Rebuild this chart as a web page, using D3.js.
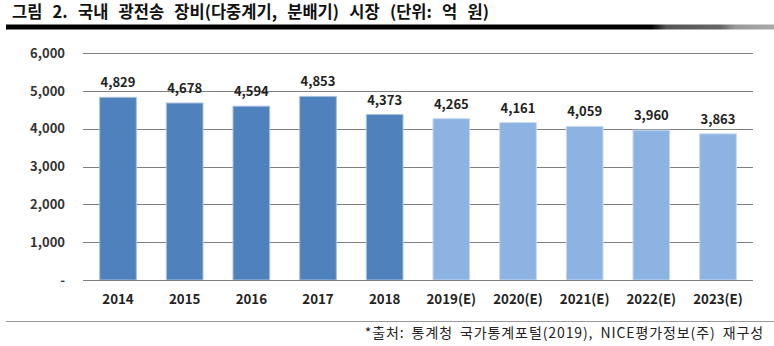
<!DOCTYPE html>
<html>
<head>
<meta charset="utf-8">
<script src="https://cdn.jsdelivr.net/npm/d3@7"></script>
<style>
  body { margin: 0; background: #fff; }
  svg { display: block; }
  text { font-family: "Noto Sans CJK KR", "Noto Sans", sans-serif; }
</style>
</head>
<body>
<svg id="chart" width="774" height="346"></svg>
<script>
// Domestic optical transmission equipment market (100M KRW)
const categories = ["2014", "2015", "2016", "2017", "2018", "2019(E)", "2020(E)", "2021(E)", "2022(E)", "2023(E)"];
const values = [4829, 4678, 4594, 4853, 4373, 4265, 4161, 4059, 3960, 3863];
const estimated = [false, false, false, false, false, true, true, true, true, true];
const yTicks = [0, 1000, 2000, 3000, 4000, 5000, 6000];
const titleText = "그림 2. 국내 광전송 장비(다중계기, 분배기) 시장 (단위: 억 원)";
const sourceText = "*출처: 통계청 국가통계포털(2019), NICE평가정보(주) 재구성";

const svg = d3.select("#chart");
const margin = { left: 83, right: 21, top: 53, bottom: 66 };
const W = 774, H = 346;

const x = d3.scaleBand().domain(categories).range([margin.left, W - margin.right]).paddingInner(0.45).paddingOuter(0.25);
const y = d3.scaleLinear().domain([0, 6000]).range([H - margin.bottom, margin.top]);

// Title and heavy rule underneath
svg.append("text").attr("x", 12).attr("y", 18)
  .attr("font-size", 16.5).attr("font-weight", "bold").attr("fill", "#111")
  .attr("word-spacing", 6.5)
  .text(titleText);

const grad = svg.append("defs").append("linearGradient").attr("id", "rule");
grad.append("stop").attr("offset", "0%").attr("stop-color", "#000");
grad.append("stop").attr("offset", "84%").attr("stop-color", "#000");
grad.append("stop").attr("offset", "86%").attr("stop-color", "#555");
grad.append("stop").attr("offset", "93%").attr("stop-color", "#666");
grad.append("stop").attr("offset", "95%").attr("stop-color", "#999");
grad.append("stop").attr("offset", "100%").attr("stop-color", "#aaa");
svg.append("rect").attr("x", 6).attr("y", 24.5).attr("width", W - 6).attr("height", 5).attr("fill", "url(#rule)");

// Gridlines
svg.append("g").selectAll("line").data(yTicks.filter(d => d > 0)).join("line")
  .attr("x1", margin.left).attr("x2", W - margin.right)
  .attr("y1", d => Math.round(y(d)) + 0.5).attr("y2", d => Math.round(y(d)) + 0.5)
  .attr("stroke", "#7f7f7f").attr("stroke-width", 1);

// Y axis labels
const yAxis = d3.axisLeft(y).tickValues(yTicks).tickSize(0).tickPadding(0)
  .tickFormat(d => d === 0 ? "-" : d3.format(",")(d));
const yg = svg.append("g").attr("transform", `translate(${margin.left - 18},0)`).call(yAxis);
yg.select(".domain").remove();
yg.selectAll("text").attr("font-size", 13).attr("font-weight", "bold").attr("fill", "#333")
  .attr("font-family", "'Noto Sans', sans-serif");

// Bars
svg.append("g").selectAll("rect").data(values).join("rect")
  .attr("x", (d, i) => x(categories[i]))
  .attr("y", d => y(d))
  .attr("width", x.bandwidth())
  .attr("height", d => y(0) - y(d))
  .attr("fill", (d, i) => estimated[i] ? "#8db3e2" : "#4f81bd")
  .attr("stroke", (d, i) => estimated[i] ? "#c6d9f1" : "#a7c0de")
  .attr("stroke-width", 1);

// Value labels
svg.append("g").selectAll("text").data(values).join("text")
  .attr("x", (d, i) => x(categories[i]) + x.bandwidth() / 2)
  .attr("y", d => y(d) - 10)
  .attr("text-anchor", "middle").attr("font-size", 13).attr("font-weight", "bold").attr("fill", "#222")
  .attr("font-family", "'Noto Sans', sans-serif")
  .text(d => d3.format(",")(d));

// Baseline
svg.append("line").attr("x1", margin.left).attr("x2", W - margin.right)
  .attr("y1", Math.round(y(0)) + 0.5).attr("y2", Math.round(y(0)) + 0.5)
  .attr("stroke", "#7f7f7f");

// X axis labels
const xAxis = d3.axisBottom(x).tickSize(0).tickPadding(0);
const xg = svg.append("g").attr("transform", `translate(0,${y(0) + 15})`).call(xAxis);
xg.select(".domain").remove();
xg.selectAll("text").attr("font-size", 13.3).attr("font-weight", "bold").attr("fill", "#222")
  .attr("font-family", "'Noto Sans', sans-serif");

// Footer rule and source
svg.append("line").attr("x1", 6).attr("x2", W).attr("y1", 321.5).attr("y2", 321.5).attr("stroke", "#999");
svg.append("text").attr("x", 764).attr("y", 338).attr("text-anchor", "end")
  .attr("font-size", 14).attr("letter-spacing", 0.9).attr("word-spacing", 3).attr("fill", "#222")
  .text(sourceText);
</script>
</body>
</html>
